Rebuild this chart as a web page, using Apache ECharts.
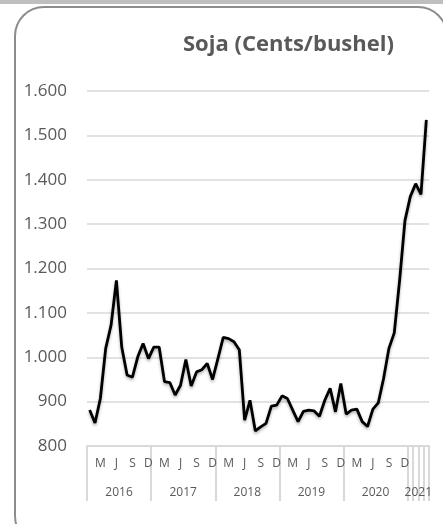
<!DOCTYPE html>
<html>
<head>
<meta charset="utf-8">
<script src="https://cdn.jsdelivr.net/npm/echarts@6/dist/echarts.min.js"></script>
<style>
  html, body { margin: 0; padding: 0; background: #fff; }
  .strip { position: absolute; left: 0; top: 0; width: 443px; height: 4px; background: #bfbfbf; }
  .box {
    position: absolute; left: 14px; top: 6px; width: 434px; height: 540px;
    border: 2px solid #8c8c8c; border-radius: 30px; box-sizing: border-box;
  }
  #chart { position: absolute; left: 0; top: 0; width: 443px; height: 524px; }
</style>
</head>
<body>
<div class="strip"></div>
<div class="box"></div>
<div id="chart"></div>
<script>
// monthly soybean price, Jan 2016 .. Apr 2021
const years = [2016, 2017, 2018, 2019, 2020, 2021]
const monthsPerYear = [12, 12, 12, 12, 12, 4]
const monthLetters = ['', '', 'M', '', '', 'J', '', '', 'S', '', '', 'D']
const prices = [
  881, 852, 907, 1020, 1072, 1173, 1023, 960, 955, 1001, 1031, 997,
  1023, 1023, 945, 943, 915, 937, 995, 935, 967, 972, 986, 950,
  997, 1045, 1042, 1035, 1017, 858, 903, 834, 843, 851, 890, 892,
  913, 907, 881, 855, 878, 881, 879, 867, 903, 930, 877, 941,
  872, 881, 883, 855, 844, 883, 897, 952, 1020, 1055, 1173, 1308,
  1362, 1391, 1367, 1535,
]
const yTicks = [800, 900, 1000, 1100, 1200, 1300, 1400, 1500, 1600]

// category names + the short month labels shown under the axis
const categories = []
const monthLabels = []
years.forEach((y, yi) => {
  for (let m = 0; m < monthsPerYear[yi]; m++) {
    categories.push(`${y}-${String(m + 1).padStart(2, '0')}`)
    monthLabels.push(y === 2021 ? '' : monthLetters[m])
  }
})

// year group boundaries / centres in month units
const yearBounds = [0]
const yearCentres = []
monthsPerYear.forEach((n) => {
  const start = yearBounds[yearBounds.length - 1]
  yearCentres.push(start + n / 2)
  yearBounds.push(start + n)
})
// excel draws every 2021 month tick down through the year row too
const yearTicks = yearBounds.concat([61, 62, 63])

const fmt = (v) => v >= 1000 ? `${Math.floor(v / 1000)}.${String(v % 1000).padStart(3, '0')}` : String(v)

const chart = echarts.init(document.getElementById('chart'))
chart.setOption({
  animation: false,
  title: {
    text: 'Soja (Cents/bushel)',
    left: 178,
    top: 29,
    textStyle: { fontFamily: 'Open Sans', fontWeight: 'bold', fontSize: 22, color: '#595959' },
  },
  grid: { left: 87, right: 14, top: 91, bottom: 78 },
  xAxis: [
    {
      type: 'category',
      data: categories,
      position: 'bottom',
      boundaryGap: true,
      axisLine: { lineStyle: { color: '#d9d9d9', width: 2 } },
      axisTick: { interval: 0, length: 25, lineStyle: { color: '#d9d9d9', width: 2 } },
      axisLabel: {
        interval: 0,
        margin: 12,
        fontFamily: 'Open Sans',
        fontSize: 12,
        color: '#595959',
        formatter: (v, i) => monthLabels[i],
      },
      splitLine: { show: false },
    },
    {
      type: 'value',
      position: 'bottom',
      offset: 0,
      min: 0,
      max: categories.length,
      axisLine: { show: false },
      axisTick: { show: true, customValues: yearTicks, length: 55, lineStyle: { color: '#d9d9d9', width: 2 } },
      axisLabel: {
        customValues: yearCentres,
        margin: 41,
        fontFamily: 'Open Sans',
        fontSize: 12,
        color: '#595959',
        formatter: (v) => String(years[yearCentres.indexOf(v)] ?? ''),
      },
      splitLine: { show: false },
    },
  ],
  yAxis: {
    type: 'value',
    min: yTicks[0],
    max: yTicks[yTicks.length - 1],
    interval: 100,
    axisLine: { show: false },
    axisTick: { show: false },
    axisLabel: {
      margin: 20,
      fontFamily: 'Open Sans',
      fontSize: 17,
      color: '#595959',
      formatter: fmt,
    },
    splitLine: { lineStyle: { color: '#d9d9d9', width: 1.5 } },
  },
  series: [
    {
      type: 'line',
      xAxisIndex: 0,
      data: prices,
      symbol: 'none',
      lineStyle: {
        color: '#000',
        width: 2.8,
        shadowColor: 'rgba(0,0,0,0.3)',
        shadowBlur: 3,
        shadowOffsetY: 2,
      },
    },
  ],
})
</script>
</body>
</html>
